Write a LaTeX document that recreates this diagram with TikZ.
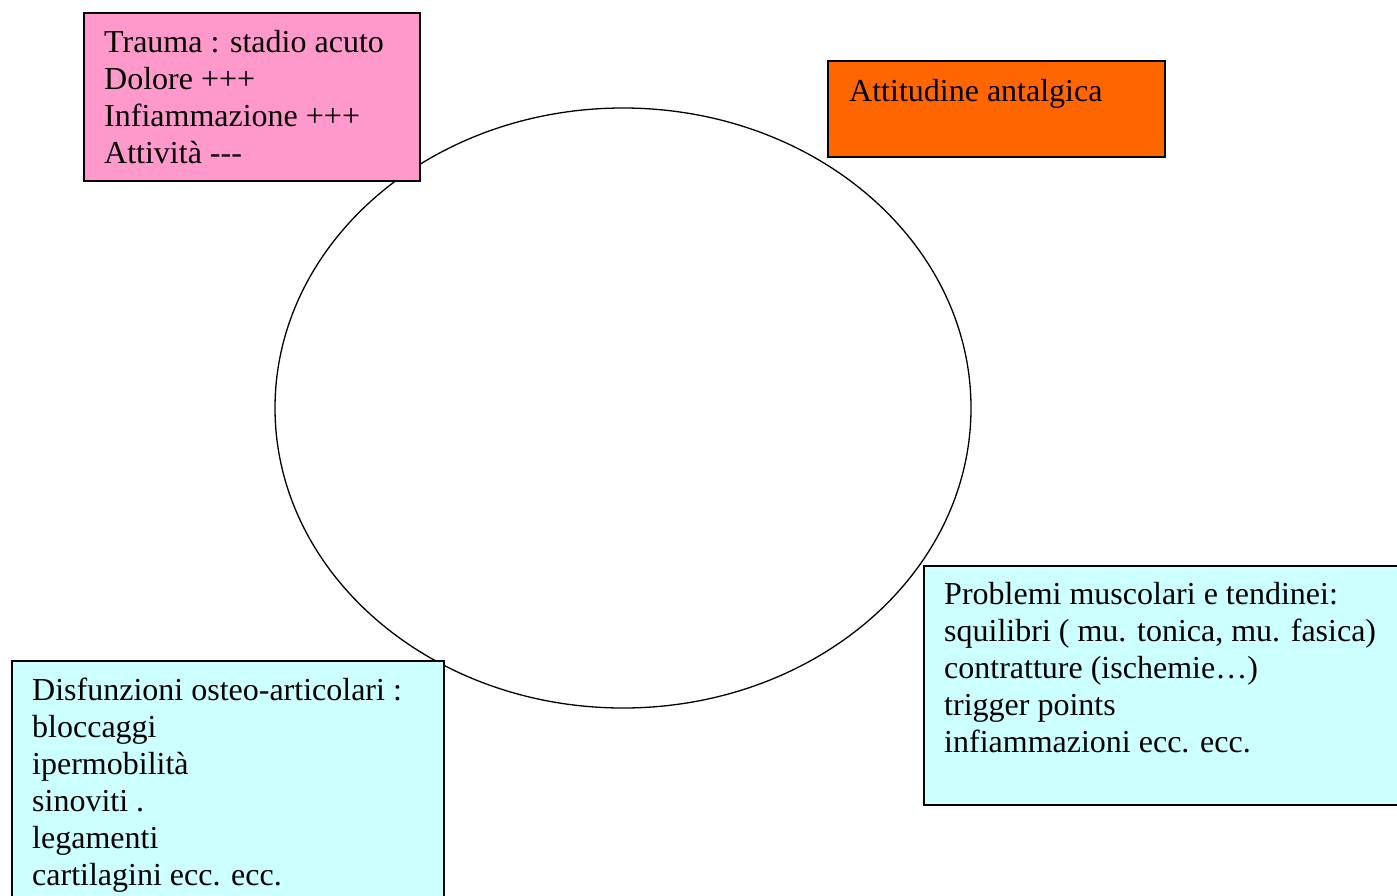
\documentclass[tikz,border=0pt]{standalone}
\usepackage{fontspec}
\setmainfont{Liberation Serif}
\usetikzlibrary{positioning,shapes.geometric}

\definecolor{pinkfill}{HTML}{FF99CC}
\definecolor{orangefill}{HTML}{FF6600}
\definecolor{cyanfill}{HTML}{CCFFFF}

\begin{document}
\begin{tikzpicture}[x=1pt,y=-1pt,
    box/.style={draw,line width=1.5pt,anchor=north west,inner sep=0pt},
    txt/.style={align=left,inner sep=0pt,font=\fontsize{32}{37}\selectfont}]
  \useasboundingbox (0,0) rectangle (1397,895);

  % the cycle
  \node[draw,ellipse,line width=1.3pt,inner sep=0pt,minimum width=696pt,minimum height=600pt] (cycle) at (623,408) {};

  % boxes around it
  \node[box,fill=pinkfill,minimum width=336pt,minimum height=168pt] (trauma) at (83,12) {};
  \node[box,fill=orangefill,minimum width=337pt,minimum height=96pt] (attitudine) at (827,60) {};
  \node[box,fill=cyanfill,minimum width=480pt,minimum height=239pt] (muscoli) at (923,565) {};
  \node[box,fill=cyanfill,minimum width=432pt,minimum height=245pt] (articoli) at (11,660) {};

  \node[txt] (traumatext) [below right=18pt and 21pt of trauma.north west]
    {Trauma : stadio acuto\\Dolore +++\\Infiammazione +++\\Attività -{}-{}-};
  \node[txt] (attitudinetext) [below right=19pt and 22pt of attitudine.north west]
    {Attitudine antalgica};
  \node[txt] (muscolitext) [below right=17pt and 21pt of muscoli.north west]
    {Problemi muscolari e tendinei:\\squilibri ( mu. tonica, mu. fasica)\\contratture (ischemie…)\\trigger points\\infiammazioni ecc. ecc.};
  \node[txt] (articolitext) [below right=18pt and 21pt of articoli.north west]
    {Disfunzioni osteo-articolari :\\bloccaggi\\ipermobilità\\sinoviti .\\legamenti\\cartilagini ecc. ecc.};
\end{tikzpicture}
\end{document}
